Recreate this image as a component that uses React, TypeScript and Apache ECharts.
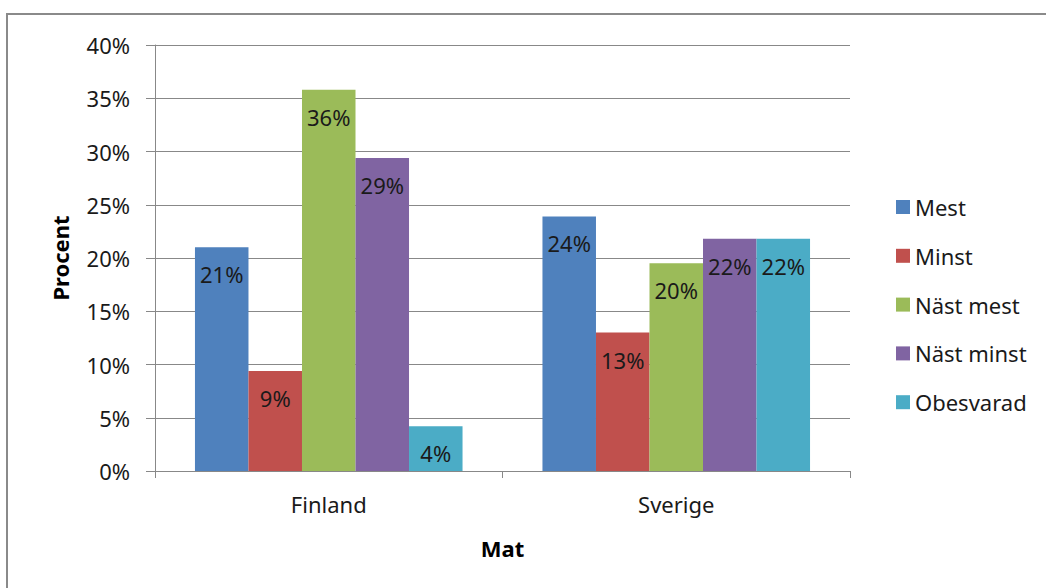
import React, { useEffect, useRef } from "react";
import * as echarts from "echarts";

const categories = ["Finland", "Sverige"];
const seriesNames = ["Mest", "Minst", "Näst mest", "Näst minst", "Obesvarad"];
const mest = [21.0, 23.9];
const minst = [9.4, 13.0];
const nastMest = [35.8, 19.5];
const nastMinst = [29.4, 21.8];
const obesvarad = [4.2, 21.8];
const colors = ["#4F81BD", "#C0504D", "#9BBB59", "#8064A2", "#4BACC6"];
const yTicks = [0, 5, 10, 15, 20, 25, 30, 35, 40];

const FONT = "'Noto Sans', 'Open Sans', sans-serif";
const FS = 22;

export default function App() {
  const ref = useRef<HTMLDivElement>(null);
  useEffect(() => {
    if (!ref.current) return;
    const chart = echarts.init(ref.current, undefined, { renderer: "svg" });
    const data = [mest, minst, nastMest, nastMinst, obesvarad];
    chart.setOption({
      animation: false,
      textStyle: { fontFamily: FONT },
      graphic: [
        {
          type: "rect",
          shape: { x: 7, y: 14, width: 1100, height: 600 },
          style: { fill: "none", stroke: "#8a8a8a", lineWidth: 2 },
          silent: true,
        },
      ],
      grid: { left: 155, right: 196, top: 45, bottom: 117, containLabel: false },
      legend: {
        orient: "vertical",
        left: 891,
        top: 191,
        itemWidth: 14,
        itemHeight: 14,
        itemGap: 26.8,
        icon: "rect",
        data: seriesNames,
        textStyle: { fontSize: FS, color: "#1a1a1a", fontFamily: FONT },
      },
      xAxis: {
        type: "category",
        data: categories,
        name: "Mat",
        nameLocation: "middle",
        nameGap: 66,
        nameTextStyle: { fontSize: FS, fontWeight: "bold", color: "#000", fontFamily: FONT },
        axisLine: { lineStyle: { color: "#888", width: 1 } },
        axisTick: { show: true, length: 7, lineStyle: { color: "#888" } },
        axisLabel: { fontSize: FS, color: "#1a1a1a", margin: 22, fontFamily: FONT },
      },
      yAxis: {
        type: "value",
        min: 0,
        max: 40,
        interval: 5,
        name: "Procent",
        nameLocation: "middle",
        nameGap: 84,
        nameTextStyle: { fontSize: FS, fontWeight: "bold", color: "#000", fontFamily: FONT },
        axisLine: { show: true, lineStyle: { color: "#888", width: 1 } },
        axisTick: { show: true, length: 9, lineStyle: { color: "#888" } },
        splitLine: { lineStyle: { color: "#888", width: 1 } },
        axisLabel: {
          fontSize: FS,
          color: "#1a1a1a",
          margin: 25,
          fontFamily: FONT,
          formatter: (v: number) => (yTicks.includes(v) ? v + "%" : ""),
        },
      },
      series: seriesNames.map((name, i) => ({
        name,
        type: "bar",
        data: data[i],
        barGap: "0%",
        barCategoryGap: "23%",
        itemStyle: { color: colors[i] },
        label: {
          show: true,
          position: "insideTop",
          distance: 16,
          fontSize: FS,
          color: "#1a1a1a",
          fontFamily: FONT,
          formatter: (p: any) => Math.round(p.value) + "%",
        },
      })),
    });
    return () => chart.dispose();
  }, []);
  return (
    <div
      ref={ref}
      style={{ position: "fixed", left: 0, top: 0, width: 1046, height: 588, background: "#fff" }}
    />
  );
}
